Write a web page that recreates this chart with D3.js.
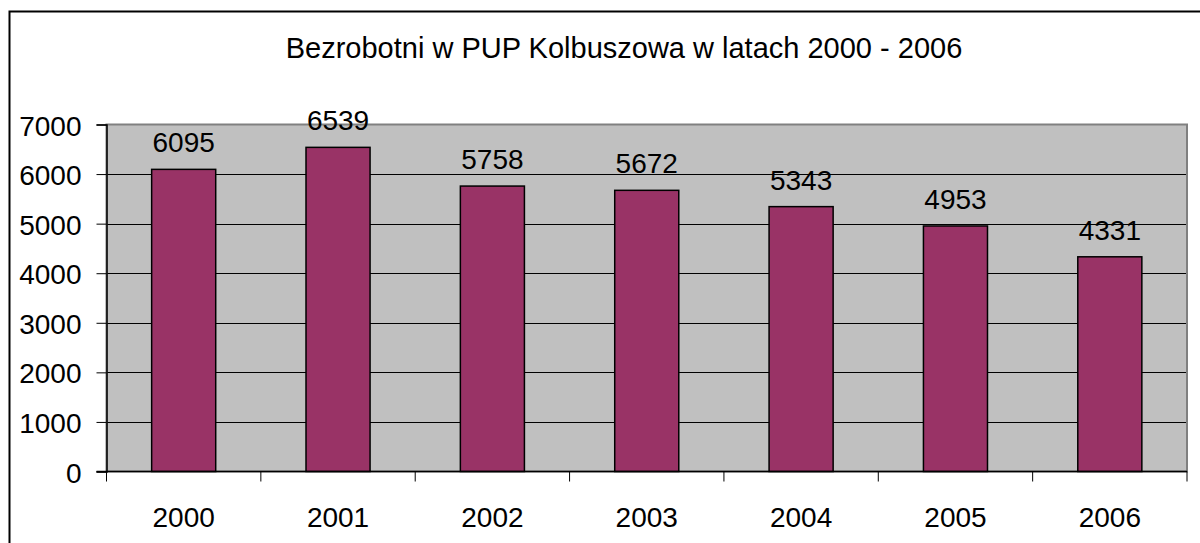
<!DOCTYPE html>
<html>
<head>
<meta charset="utf-8">
<script src="https://cdn.jsdelivr.net/npm/d3@7"></script>
<style>
  body { margin: 0; background: #fff; }
  text { font-family: "Liberation Sans", Arial, sans-serif; fill: #000; }
</style>
</head>
<body>
<script>
var width = 1200,
    height = 543;

var years = ["2000", "2001", "2002", "2003", "2004", "2005", "2006"];
var unemployed = [6095, 6539, 5758, 5672, 5343, 4953, 4331];
var yTicks = [0, 1000, 2000, 3000, 4000, 5000, 6000, 7000];
var title = "Bezrobotni w PUP Kolbuszowa w latach 2000 - 2006";

var margin = {left: 106.5, right: 13, top: 124.5, bottom: 71.5};

var svg = d3.select("body").append("svg")
    .attr("width", width)
    .attr("height", height);

// outer frame (runs off the right and bottom edges)
svg.append("rect")
    .attr("x", 9.5).attr("y", 11.5)
    .attr("width", 1300).attr("height", 600)
    .attr("fill", "none")
    .attr("stroke", "#000")
    .attr("stroke-width", 2);

svg.append("text")
    .attr("x", 624).attr("y", 58)
    .attr("text-anchor", "middle")
    .style("font-size", "29px")
    .text(title);

var x = d3.scaleBand()
    .domain(years)
    .range([margin.left, width - margin.right])
    .paddingInner(0.585)
    .paddingOuter(0.2925);

var xOuter = d3.scaleBand()
    .domain(years)
    .range([margin.left, width - margin.right]);

var y = d3.scaleLinear()
    .domain([0, 7000])
    .range([height - margin.bottom, margin.top]);

// plot background
svg.append("rect")
    .attr("x", margin.left).attr("y", margin.top)
    .attr("width", width - margin.right - margin.left)
    .attr("height", y(0) - y(7000))
    .attr("fill", "#c0c0c0");

// gridlines
svg.selectAll(".grid")
    .data(yTicks.filter(function(d) { return d > 0 && d < 7000; }))
    .enter().append("line")
      .attr("class", "grid")
      .attr("x1", margin.left).attr("x2", width - margin.right)
      .attr("y1", function(d) { return Math.round(y(d)) + 0.5; })
      .attr("y2", function(d) { return Math.round(y(d)) + 0.5; })
      .attr("stroke", "#000")
      .attr("stroke-width", 1);

// plot border
svg.append("rect")
    .attr("x", margin.left).attr("y", margin.top)
    .attr("width", width - margin.right - margin.left)
    .attr("height", y(0) - y(7000))
    .attr("fill", "none")
    .attr("stroke", "#808080")
    .attr("stroke-width", 2);

// bars
svg.selectAll(".bar")
    .data(unemployed)
    .enter().append("rect")
      .attr("class", "bar")
      .attr("x", function(d, i) { return x(years[i]); })
      .attr("width", x.bandwidth())
      .attr("y", function(d) { return y(d); })
      .attr("height", function(d) { return y(0) - y(d); })
      .attr("fill", "#993366")
      .attr("stroke", "#000")
      .attr("stroke-width", 1.5);

// value labels
svg.selectAll(".value")
    .data(unemployed)
    .enter().append("text")
      .attr("class", "value")
      .attr("x", function(d, i) { return x(years[i]) + x.bandwidth() / 2; })
      .attr("y", function(d) { return y(d) - 17; })
      .attr("text-anchor", "middle")
      .style("font-size", "28px")
      .text(function(d) { return d; });

// y axis
var yAxis = d3.axisLeft(y)
    .tickValues(yTicks)
    .tickFormat(d3.format("d"))
    .tickSize(10)
    .tickPadding(15);

var yG = svg.append("g")
    .attr("transform", "translate(" + margin.left + ",0)")
    .call(yAxis);
yG.select(".domain").attr("stroke", "#000").attr("stroke-width", 1.5);
yG.selectAll(".tick line").attr("stroke", "#000");
yG.selectAll(".tick text")
    .style("font-size", "28px")
    .style("font-family", "Liberation Sans, Arial, sans-serif")
    .attr("dy", "0.38em")
    .attr("fill", "#000");

// x axis line
svg.append("line")
    .attr("x1", margin.left - 10).attr("x2", width - margin.right)
    .attr("y1", y(0)).attr("y2", y(0))
    .attr("stroke", "#000").attr("stroke-width", 1.5);

// x ticks at category boundaries
var bounds = years.map(function(d) { return xOuter(d); }).concat([width - margin.right]);
svg.selectAll(".xtick")
    .data(bounds)
    .enter().append("line")
      .attr("class", "xtick")
      .attr("x1", function(d) { return d; }).attr("x2", function(d) { return d; })
      .attr("y1", y(0)).attr("y2", y(0) + 10)
      .attr("stroke", "#000");

svg.selectAll(".xlabel")
    .data(years)
    .enter().append("text")
      .attr("class", "xlabel")
      .attr("x", function(d) { return xOuter(d) + xOuter.bandwidth() / 2; })
      .attr("y", 527)
      .attr("text-anchor", "middle")
      .style("font-size", "28px")
      .text(function(d) { return d; });
</script>
</body>
</html>
